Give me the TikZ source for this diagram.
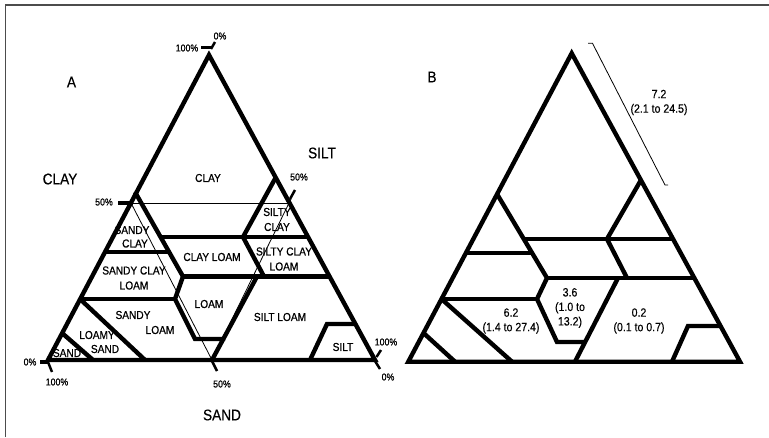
\documentclass[tikz,border=0pt]{standalone}
\usepackage{fontspec}
\setmainfont{Liberation Sans}[FakeStretch=0.88]
\newfontfamily\heavyfont{Liberation Sans}[FakeStretch=0.88, FakeBold=0.7]
\newfontfamily\midfont{Liberation Sans}[FakeStretch=0.88, FakeBold=0.35]
\newcommand\fsPct{\heavyfont\fontsize{10}{12}\selectfont}
\newcommand\fsIn{\heavyfont\fontsize{11.5}{15}\selectfont}
\newcommand\fsOut{\midfont\fontsize{15.5}{18}\selectfont}
\newcommand\fsNum{\midfont\fontsize{12}{14.5}\selectfont}
\begin{document}
\begin{tikzpicture}[x=1pt,y=-1pt,
  edgeline/.style={line width=4.4pt, line join=miter},
  fineline/.style={line width=0.8pt},
  tickmark/.style={line width=3.5pt},
  framestyle/.style={line width=1.3pt, draw=black!70},
  lbl/.style={font=\fsIn, inner sep=0pt, align=center},
  pct/.style={font=\fsPct, inner sep=0pt},
  outl/.style={font=\fsOut, inner sep=0pt},
  num/.style={font=\fsNum, inner sep=0pt, align=center}]
\useasboundingbox (0,0) rectangle (769,437);
\fill[white] (0,0) rectangle (769,437);
% frame
\draw[framestyle] (5.5,437) -- (5.5,5) -- (769,5);

% ================= Triangle A =================
\coordinate (aT) at (209,55);
\coordinate (aL) at (48,360);
\coordinate (aR) at (375,360);
\draw[edgeline] (aT) -- (aL) -- (aR) -- cycle;

% thin 50% lines
\coordinate (aCl) at (131,203);
\coordinate (aCr) at (289.5,203);
\coordinate (aBm) at (212,360);
\draw[fineline] (aCl) -- (aCr);
\draw[fineline] (aCl) -- (aBm);
\draw[fineline] (291,199) -- (aBm);

% class boundaries
\coordinate (a1) at (135,192);
\coordinate (a2) at (183,276.5);
\coordinate (a3) at (175,299);
\coordinate (a4) at (195,339);
\coordinate (a5) at (225,339);
\draw[edgeline] (a1) -- (a2) -- (a3) -- (a4) -- (a5);
\coordinate (a6) at (257,276.5);
\draw[edgeline] (a6) -- (aBm);
\draw[edgeline] (160.5,237) -- (308,237);
\draw[edgeline] (105,252) -- (169.5,252);
\draw[edgeline] (a2) -- (330,276.5);
\draw[edgeline] (80,299) -- (a3);
\coordinate (a7) at (276,177);
\coordinate (a8) at (243,237);
\coordinate (a9) at (264,276.5);
\draw[edgeline] (a7) -- (a8) -- (a9);
\draw[edgeline] (310,360) -- (327,324) -- (355.5,324);
\draw[edgeline] (80,299) -- (145,360);
\draw[edgeline] (62,333) -- (93,360);

% ticks
\draw[tickmark] (201,47.5) -- (211,47.5);
\draw[line width=2.5pt] (211,49) -- (215,42);
\draw[tickmark] (118,203) -- (133,203);
\draw[line width=2.5pt] (290,199) -- (295,190);
\draw[line width=2.5pt] (376.5,357) -- (381,350);
\draw[line width=2.5pt] (375,361) -- (380,369);
\draw[line width=2.5pt] (212,361) -- (217,371);
\draw[tickmark] (40,362) -- (49,362);
\draw[line width=2.5pt] (48,362) -- (52,372);

% percent labels
\node[pct] (p1) at (220,36) {0\%};
\node[pct] (p2) at (187,48) {100\%};
\node[pct] (p3) at (104,202) {50\%};
\node[pct] (p4) at (299,177) {50\%};
\node[pct] (p5) at (386,342) {100\%};
\node[pct] (p6) at (388,377) {0\%};
\node[pct] (p7) at (30,362) {0\%};
\node[pct] (p8) at (57,382) {100\%};
\node[pct] (p9) at (222,384) {50\%};

% outer labels
\node[outl] (lA) at (71.5,82) {A};
\node[outl] (lClay) at (60,179) {CLAY};
\node[outl] (lSilt) at (322,153) {SILT};
\node[outl] (lSand) at (222,415) {SAND};

% class labels
\node[lbl] (cClay) at (208,178) {CLAY};
\node[lbl] (cSC) at (277,219.5) {SILTY\\CLAY};
\node[lbl] (cSaC1) at (132,230) {SANDY};
\node[lbl] (cSaC2) at (135,243.5) {CLAY};
\node[lbl] (cCL) at (212,257) {CLAY LOAM};
\node[lbl] (cSiCL) at (284,259) {SILTY CLAY\\LOAM};
\node[lbl] (cSaCL) at (134,278) {SANDY CLAY\\LOAM};
\node[lbl] (cLoam) at (209,304) {LOAM};
\node[lbl] (cSaL1) at (133,315) {SANDY};
\node[lbl] (cSaL2) at (160,330) {LOAM};
\node[lbl] (cSiL) at (280,317) {SILT LOAM};
\node[lbl] (cSilt) at (343,347) {SILT};
\node[lbl] (cLS1) at (97,335) {LOAMY};
\node[lbl] (cLS2) at (105,349) {SAND};
\node[lbl] (cSand) at (67,353) {SAND};

% ================= Triangle B =================
\coordinate (bT) at (571.7,53.3);
\coordinate (bL) at (408.3,361.7);
\coordinate (bR) at (740,361.7);
\draw[edgeline] (bT) -- (bL) -- (bR) -- cycle;

\coordinate (b1) at (497,194);
\coordinate (b2) at (547,278);
\coordinate (b3) at (537,299);
\coordinate (b4) at (557,342);
\coordinate (b5) at (585,342);
\draw[edgeline] (b1) -- (b2) -- (b3) -- (b4) -- (b5);
\draw[edgeline] (618,278) -- (575,361.7);
\draw[edgeline] (523.8,239) -- (673,239);
\draw[edgeline] (466,253) -- (532,253);
\draw[edgeline] (b2) -- (694.4,278);
\draw[edgeline] (441.5,299) -- (b3);
\coordinate (b6) at (641,180);
\coordinate (b7) at (607,239);
\coordinate (b8) at (627,278);
\draw[edgeline] (b6) -- (b7) -- (b8);
\draw[edgeline] (672,361.7) -- (688,326) -- (720.6,326);
\draw[edgeline] (441.5,299) -- (512,361.7);
\draw[edgeline] (423.5,333) -- (455,361.7);

% dimension line
\coordinate (d1) at (588,43.3);
\coordinate (d2) at (592.5,43.3);
\coordinate (d3) at (665,185);
\coordinate (d4) at (668,185);
\draw[fineline] (d1) -- (d2) -- (d3) -- (d4);

\node[outl] (lB) at (432,77) {B};
\node[num] (n1) at (659,102.5) {7.2\\(2.1 to 24.5)};
\node[num] (n2) at (570,308) {3.6\\(1.0 to\\13.2)};
\node[num] (n3) at (511,321) {6.2\\(1.4 to 27.4)};
\node[num] (n4) at (639,321) {0.2\\(0.1 to 0.7)};
\end{tikzpicture}
\end{document}
